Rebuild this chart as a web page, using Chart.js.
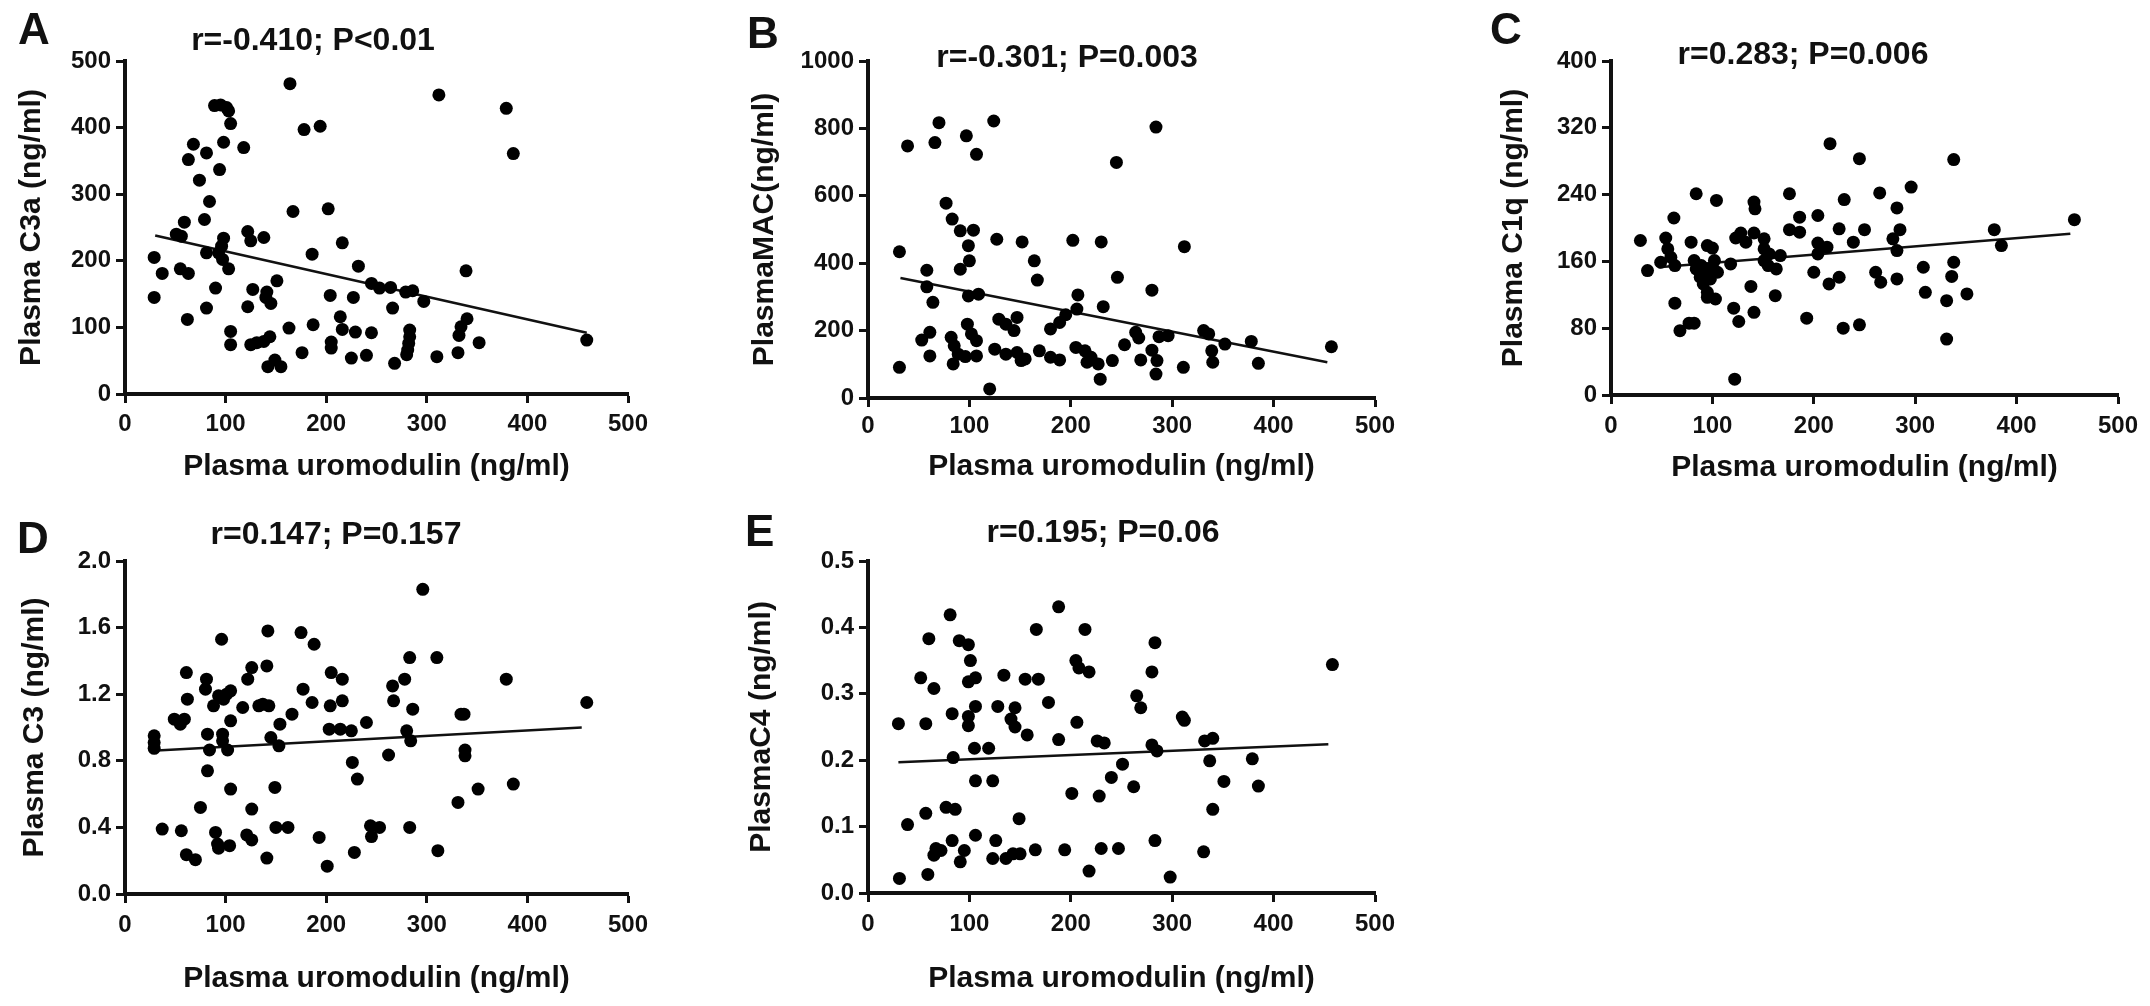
<!DOCTYPE html>
<html>
<head>
<meta charset="utf-8">
<script src="https://cdn.jsdelivr.net/npm/chart.js@4.4.1/dist/chart.umd.min.js"></script>
<style>
  html, body { margin: 0; padding: 0; background: #fff; }
  #fig { position: relative; width: 2150px; height: 1006px; overflow: hidden;
         font-family: "Liberation Sans", Arial, sans-serif; font-weight: bold; color: #111; }
  #fig canvas { position: absolute; }
  .letter { position: absolute; font-size: 44px; line-height: 1; }
  .stat { position: absolute; font-size: 32px; line-height: 1; white-space: nowrap;
          transform: translate(-50%, -50%); }
</style>
</head>
<body>
<div id="fig"></div>
<script>
// x axis is the same for every panel
var xTitle = 'Plasma uromodulin (ng/ml)';
var xMax = 500, xStep = 100;

// panel A: uromodulin vs C3a
var ptsA = [[164,466],[312,449],[379,429],[386,361],[89,433],[95,434],[101,430],[103,425],[105,406],
  [178,397],[194,402],[68,375],[81,362],[98,378],[118,370],[63,352],[94,337],[74,321],[84,289],
  [167,274],[202,278],[79,262],[59,258],[51,240],[56,237],[122,244],[125,230],[138,235],[216,227],
  [98,234],[96,222],[93,212],[97,202],[103,188],[81,212],[29,205],[37,181],[55,188],[63,181],
  [186,210],[232,192],[339,185],[151,170],[127,157],[141,153],[145,136],[140,145],[90,159],
  [245,166],[253,159],[264,160],[279,153],[286,155],[204,148],[227,145],[297,139],[29,145],
  [81,129],[122,131],[266,129],[62,112],[340,113],[334,101],[332,88],[105,94],[105,74],
  [125,74],[131,77],[138,79],[144,86],[163,99],[187,104],[214,116],[216,97],[229,93],[245,92],
  [205,78],[205,69],[283,96],[283,86],[282,76],[281,66],[280,59],[352,77],[331,62],[459,81],
  [176,62],[225,54],[240,58],[268,46],[310,56],[142,41],[149,51],[155,41]];
var fitA = [[30,238],[459,92]];

// panel B: uromodulin vs MAC
var ptsB = [[39,748],[70,817],[66,758],[97,778],[107,723],[124,822],[284,804],[245,699],[77,578],
  [83,531],[91,496],[104,498],[99,452],[100,407],[91,382],[31,434],[58,379],[58,330],[64,284],
  [127,471],[152,463],[164,407],[167,350],[202,468],[230,463],[312,449],[246,358],[280,320],
  [99,303],[109,308],[207,306],[206,264],[232,271],[129,234],[136,219],[147,239],[144,200],
  [195,247],[189,224],[180,205],[98,219],[102,190],[107,170],[53,172],[61,195],[82,180],[85,155],
  [89,130],[96,123],[107,125],[84,101],[61,125],[31,91],[125,145],[136,130],[147,135],[151,111],
  [155,116],[169,140],[180,121],[189,113],[205,150],[214,140],[216,106],[220,121],[227,101],
  [229,56],[241,111],[253,158],[264,195],[267,178],[269,113],[280,142],[285,111],[284,71],
  [287,182],[296,185],[311,91],[331,200],[336,190],[339,140],[340,106],[352,160],[378,168],
  [385,103],[457,152],[120,27]];
var fitB = [[32,356],[453,106]];

// panel C: uromodulin vs C1q
var ptsC = [[216,301],[245,283],[338,282],[84,241],[104,233],[176,241],[265,242],[296,249],[141,231],
  [142,223],[230,234],[282,224],[62,212],[186,213],[204,215],[457,210],[176,198],[186,195],
  [225,199],[250,198],[285,198],[378,198],[29,185],[54,188],[123,188],[128,194],[133,183],
  [141,194],[151,187],[79,183],[278,187],[239,183],[385,179],[204,182],[213,177],[204,169],
  [95,179],[100,176],[56,175],[59,165],[151,175],[156,169],[167,167],[282,173],[49,159],[36,149],
  [63,155],[82,161],[84,151],[89,155],[93,147],[98,151],[102,161],[105,147],[118,157],[151,161],
  [155,155],[163,151],[200,147],[88,141],[91,133],[95,123],[98,139],[95,117],[103,115],[215,133],
  [225,141],[261,147],[266,135],[282,139],[308,153],[338,159],[336,142],[138,130],[162,119],
  [310,123],[351,121],[331,113],[63,110],[121,104],[126,88],[141,99],[68,77],[77,86],[82,86],
  [193,92],[229,80],[245,84],[331,67],[122,19]];
var fitC = [[47,153],[453,193]];

// panel D: uromodulin vs C3
var ptsD = [[296,1.83],[142,1.58],[175,1.57],[188,1.50],[96,1.53],[283,1.42],[310,1.42],[61,1.33],
  [126,1.36],[141,1.37],[81,1.29],[80,1.23],[122,1.29],[205,1.33],[216,1.29],[278,1.29],[266,1.25],
  [379,1.29],[62,1.17],[88,1.13],[93,1.19],[98,1.17],[101,1.20],[105,1.22],[177,1.23],[186,1.15],
  [117,1.12],[133,1.13],[137,1.14],[143,1.13],[204,1.13],[216,1.16],[267,1.16],[459,1.15],
  [286,1.11],[49,1.05],[55,1.02],[59,1.05],[105,1.04],[166,1.08],[154,1.02],[240,1.03],[334,1.08],
  [337,1.08],[203,0.99],[214,0.99],[225,0.98],[29,0.95],[29,0.91],[29,0.875],[82,0.96],[97,0.96],
  [97,0.92],[145,0.94],[153,0.89],[84,0.865],[102,0.865],[280,0.98],[284,0.92],[338,0.865],
  [338,0.83],[262,0.835],[226,0.79],[231,0.69],[82,0.74],[105,0.63],[149,0.64],[351,0.63],
  [386,0.66],[331,0.55],[75,0.52],[126,0.51],[37,0.39],[56,0.38],[90,0.37],[92,0.30],[93,0.275],
  [104,0.29],[121,0.355],[126,0.325],[150,0.40],[162,0.40],[193,0.34],[244,0.41],[253,0.40],
  [245,0.345],[283,0.40],[228,0.25],[311,0.26],[61,0.236],[70,0.206],[141,0.216],[201,0.167]];
var fitD = [[27,0.86],[454,1.00]];

// panel E: uromodulin vs C4
var ptsE = [[188,0.431],[81,0.419],[166,0.397],[214,0.397],[60,0.383],[90,0.380],[99,0.374],
  [283,0.377],[458,0.344],[101,0.350],[205,0.350],[208,0.339],[218,0.333],[280,0.333],[52,0.324],
  [65,0.308],[99,0.318],[106,0.324],[134,0.328],[155,0.322],[168,0.322],[265,0.297],[269,0.279],
  [178,0.287],[83,0.270],[99,0.266],[99,0.252],[106,0.281],[128,0.281],[145,0.279],[141,0.262],
  [145,0.250],[157,0.238],[30,0.255],[57,0.255],[206,0.257],[310,0.265],[312,0.260],[188,0.231],
  [226,0.229],[233,0.226],[332,0.229],[340,0.233],[280,0.223],[285,0.214],[105,0.218],[119,0.218],
  [84,0.204],[337,0.199],[379,0.202],[251,0.194],[106,0.169],[123,0.169],[240,0.174],[262,0.160],
  [351,0.168],[385,0.161],[201,0.150],[228,0.146],[77,0.129],[86,0.126],[57,0.120],[340,0.126],
  [149,0.112],[39,0.103],[106,0.087],[83,0.079],[283,0.079],[126,0.079],[123,0.052],[136,0.052],
  [143,0.059],[150,0.059],[165,0.065],[67,0.067],[65,0.057],[72,0.064],[95,0.064],[91,0.047],
  [194,0.065],[230,0.067],[247,0.067],[331,0.062],[218,0.033],[59,0.028],[31,0.022],[298,0.024]];
var fitE = [[30,0.197],[454,0.224]];

var letters = ['A', 'B', 'C', 'D', 'E'];
var stats = ['r=-0.410; P<0.01', 'r=-0.301; P=0.003', 'r=0.283; P=0.006', 'r=0.147; P=0.157', 'r=0.195; P=0.06'];
var yTitles = ['Plasma C3a (ng/ml)', 'PlasmaMAC(ng/ml)', 'Plasma C1q (ng/ml)', 'Plasma C3 (ng/ml)', 'PlasmaC4 (ng/ml)'];
var yMaxes = [500, 1000, 400, 2.0, 0.5];
var ySteps = [100, 200, 80, 0.4, 0.1];
var yDecimals = [0, 0, 0, 1, 1];

// where each panel sits on the page (box = canvas, area = plot area)
var layout = [
  { box: [0, 0, 720, 500],      area: [125, 61, 628, 394],   yTitleX: 32,   xTitleY: 467, xTickY: 424, stat: [313, 39],   letter: [18, 7] },
  { box: [720, 0, 740, 500],    area: [868, 61, 1375, 398],  yTitleX: 765,  xTitleY: 467, xTickY: 426, stat: [1067, 56],  letter: [747, 11] },
  { box: [1460, 0, 690, 500],   area: [1611, 61, 2118, 395], yTitleX: 1514, xTitleY: 468, xTickY: 426, stat: [1803, 53],  letter: [1490, 7] },
  { box: [0, 500, 720, 506],    area: [125, 561, 628, 894],  yTitleX: 35,   xTitleY: 979, xTickY: 925, stat: [336, 533],  letter: [17, 516] },
  { box: [720, 500, 740, 506],  area: [868, 561, 1375, 893], yTitleX: 762,  xTitleY: 979, xTickY: 924, stat: [1103, 531], letter: [745, 509] }
];

var points = [ptsA, ptsB, ptsC, ptsD, ptsE];
var fits = [fitA, fitB, fitC, fitD, fitE];

var ink = '#111';
var fam = '"Liberation Sans", Arial, sans-serif';
var tickSize = 24, titleSize = 30, tickLen = 9;

function toXY(p) { return { x: p[0], y: p[1] }; }

function makePanel(i) {
  var lay = layout[i];
  var fig = document.getElementById('fig');
  var bx = lay.box;

  var cv = document.createElement('canvas');
  cv.width = bx[2]; cv.height = bx[3];
  cv.style.left = bx[0] + 'px'; cv.style.top = bx[1] + 'px';
  cv.style.width = bx[2] + 'px'; cv.style.height = bx[3] + 'px';
  fig.appendChild(cv);

  var L = lay.area[0] - bx[0];
  var T = lay.area[1] - bx[1];
  var R = lay.area[2] - bx[0];
  var B = lay.area[3] - bx[1];
  var titleLH = titleSize * 1.2, tickLH = tickSize * 1.2;

  var tickFont = { family: fam, size: tickSize, weight: 'bold' };
  var titleFont = { family: fam, size: titleSize, weight: 'bold' };
  var grid = { display: true, drawOnChartArea: false, drawTicks: true, tickLength: tickLen,
               tickWidth: 3, tickColor: ink, color: ink };
  var border = { display: true, width: 4, color: ink };

  new Chart(cv, {
    type: 'scatter',
    data: {
      datasets: [
        { data: points[i].map(toXY), pointRadius: 6.5, pointBackgroundColor: '#000',
          pointBorderWidth: 0, showLine: false },
        { data: fits[i].map(toXY), showLine: true, borderColor: ink, borderWidth: 2.5,
          pointRadius: 0, fill: false }
      ]
    },
    options: {
      responsive: false,
      animation: false,
      events: [],
      layout: { padding: { left: 0, top: T, right: bx[2] - R, bottom: 0 } },
      plugins: { legend: { display: false }, tooltip: { enabled: false } },
      scales: {
        x: {
          type: 'linear', min: 0, max: xMax,
          ticks: { stepSize: xStep, font: tickFont, color: ink, maxRotation: 0, autoSkip: false,
                   padding: lay.xTickY - lay.area[3] - tickLen - tickLH / 2 },
          grid: grid, border: border,
          title: { display: true, text: xTitle, font: titleFont, color: ink,
                   padding: { top: 0, bottom: (bx[1] + bx[3]) - lay.xTitleY - titleLH / 2 } },
          afterFit: function (s) { s.height = bx[3] - B; }
        },
        y: {
          type: 'linear', min: 0, max: yMaxes[i],
          ticks: { stepSize: ySteps[i], font: tickFont, color: ink, padding: 5,
                   callback: function (v) { return Number(v).toFixed(yDecimals[i]); } },
          grid: grid, border: border,
          title: { display: true, text: yTitles[i], font: titleFont, color: ink,
                   padding: { top: lay.yTitleX - bx[0] - titleLH / 2, bottom: 0 } },
          afterFit: function (s) { s.width = L; }
        }
      }
    }
  });

  var st = document.createElement('div');
  st.className = 'stat';
  st.textContent = stats[i];
  st.style.left = lay.stat[0] + 'px';
  st.style.top = lay.stat[1] + 'px';
  fig.appendChild(st);

  var lt = document.createElement('div');
  lt.className = 'letter';
  lt.textContent = letters[i];
  lt.style.left = lay.letter[0] + 'px';
  lt.style.top = lay.letter[1] + 'px';
  fig.appendChild(lt);
}

for (var i = 0; i < 5; i++) makePanel(i);
</script>
</body>
</html>
